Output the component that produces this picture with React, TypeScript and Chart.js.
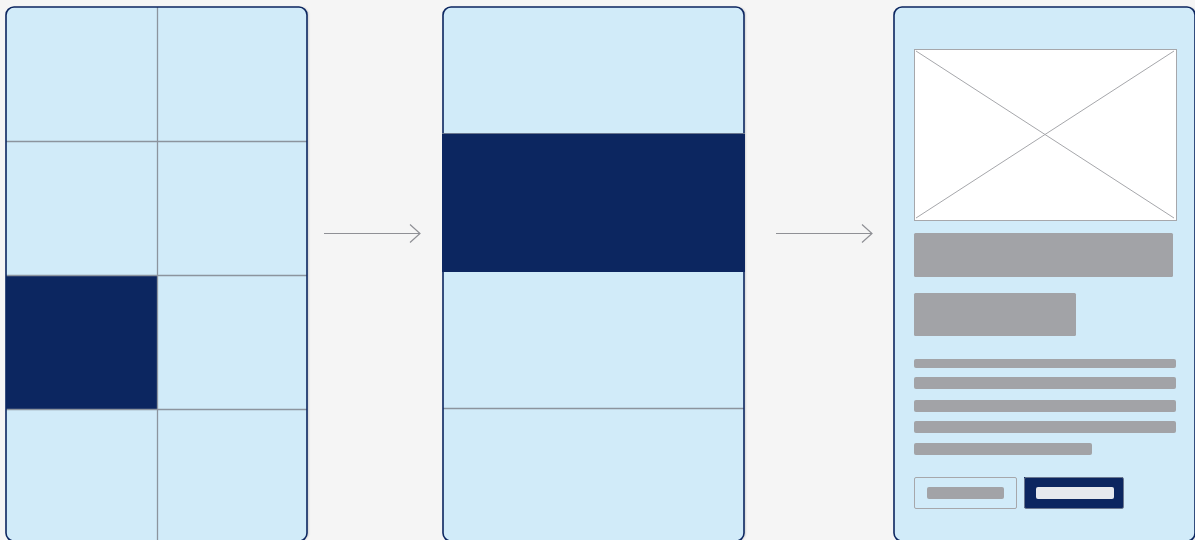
import React, { useEffect, useRef } from "react";
import { Chart, registerables } from "chart.js";

Chart.register(...registerables);

// Diagram coordinates (data space 0..1195 x 0..540)
const panelLefts = [6, 443, 894];
const panelWidth = 301;
const panelTop = 7;
const panelBottom = 541;

// Panel 1: 2x4 grid with one highlighted cell
const gridCols = [6, 157, 307];
const gridRows = [7, 141, 275, 409, 541];
const highlightCell = [0, 2]; // [col, row]

// Panel 2: one highlighted band and a divider
const bandTop = 133;
const bandBottom = 272;
const bandDividers = [408];

// Arrows between panels: [x0, x1, y]
const arrows = [
  [324, 420, 233],
  [776, 872, 233],
];

// Panel 3: wireframe blocks [x, y, w, h]
const imageBox = [914, 49, 262, 171];
const titleBlocks = [
  [914, 233, 259, 44],
  [914, 293, 162, 43],
];
const textLines = [
  [914, 359, 262, 9],
  [914, 377, 262, 12],
  [914, 400, 262, 12],
  [914, 421, 262, 12],
  [914, 443, 178, 12],
];
const buttons = [
  { box: [914, 477, 102, 31], label: [927, 487, 77, 12], primary: false },
  { box: [1024, 477, 99, 31], label: [1036, 487, 78, 12], primary: true },
];

const NAVY = "#0c2660";
const PANEL = "#d1ebf9";
const GRIDLINE = "#8c949e";
const BLOCK = "#a2a3a7";

const diagramPlugin = {
  id: "diagram",
  beforeDraw(chart: any) {
    const { ctx, width, height } = chart;
    ctx.save();
    ctx.fillStyle = "#f5f5f5";
    ctx.fillRect(0, 0, width, height);
    ctx.restore();
  },
  afterDatasetsDraw(chart: any) {
    const ctx = chart.ctx;
    const xs = chart.scales.x;
    const ys = chart.scales.y;
    const px = (v: number) => xs.getPixelForValue(v);
    const py = (v: number) => ys.getPixelForValue(v);
    const rect = (x: number, y: number, w: number, h: number) => {
      const x0 = px(x), y0 = py(y), x1 = px(x + w), y1 = py(y + h);
      return [x0, y0, x1 - x0, y1 - y0];
    };

    ctx.save();
    // panels
    panelLefts.forEach((left, i) => {
      const [x, y, w, h] = rect(left, panelTop, panelWidth, panelBottom - panelTop);
      ctx.save();
      ctx.shadowColor = "rgba(0,0,0,0.12)";
      ctx.shadowOffsetX = 2;
      ctx.shadowBlur = 2;
      ctx.beginPath();
      ctx.roundRect(x, y, w, h, 8);
      ctx.fillStyle = PANEL;
      ctx.fill();
      ctx.restore();

      ctx.save();
      ctx.beginPath();
      ctx.roundRect(x, y, w, h, 8);
      ctx.clip();

      if (i === 0) {
        const [c, r] = highlightCell;
        const [hx, hy, hw, hh] = rect(gridCols[c], gridRows[r], gridCols[c + 1] - gridCols[c], gridRows[r + 1] - gridRows[r]);
        ctx.fillStyle = NAVY;
        ctx.fillRect(hx, hy, hw, hh);
        ctx.strokeStyle = GRIDLINE;
        ctx.lineWidth = 1.3;
        for (let k = 1; k < gridCols.length - 1; k++) {
          ctx.beginPath();
          ctx.moveTo(Math.round(px(gridCols[k])) + 0.5, py(panelTop));
          ctx.lineTo(Math.round(px(gridCols[k])) + 0.5, py(panelBottom));
          ctx.stroke();
        }
        for (let k = 1; k < gridRows.length - 1; k++) {
          ctx.beginPath();
          ctx.moveTo(px(left), Math.round(py(gridRows[k])) + 0.5);
          ctx.lineTo(px(left + panelWidth), Math.round(py(gridRows[k])) + 0.5);
          ctx.stroke();
        }
      }
      if (i === 1) {
        ctx.strokeStyle = GRIDLINE;
        ctx.lineWidth = 1.3;
        bandDividers.forEach((d) => {
          ctx.beginPath();
          ctx.moveTo(px(left), Math.round(py(d)) + 0.5);
          ctx.lineTo(px(left + panelWidth), Math.round(py(d)) + 0.5);
          ctx.stroke();
        });
      }
      ctx.restore();

      ctx.beginPath();
      ctx.roundRect(x, y, w, h, 8);
      ctx.strokeStyle = NAVY;
      ctx.lineWidth = 1.6;
      ctx.stroke();

      if (i === 1) {
        const [bx, by, bw, bh] = rect(left - 1, bandTop, panelWidth + 2, bandBottom - bandTop);
        ctx.fillStyle = NAVY;
        ctx.fillRect(bx, by, bw, bh);
        ctx.strokeStyle = "#6b7890";
        ctx.lineWidth = 1;
        ctx.beginPath();
        ctx.moveTo(bx, Math.round(by) + 0.5);
        ctx.lineTo(bx + bw, Math.round(by) + 0.5);
        ctx.stroke();
      }
    });

    // arrows
    ctx.strokeStyle = "#8f9095";
    ctx.lineWidth = 1.2;
    arrows.forEach(([x0, x1, y]) => {
      const yy = Math.round(py(y)) + 0.5;
      ctx.beginPath();
      ctx.moveTo(px(x0), yy);
      ctx.lineTo(px(x1), yy);
      ctx.stroke();
      ctx.beginPath();
      ctx.moveTo(px(x1 - 10), yy - 9);
      ctx.lineTo(px(x1), yy);
      ctx.lineTo(px(x1 - 10), yy + 9);
      ctx.stroke();
    });

    // image placeholder
    {
      const [x, y, w, h] = rect(imageBox[0], imageBox[1], imageBox[2], imageBox[3]);
      ctx.fillStyle = "#ffffff";
      ctx.fillRect(x, y, w, h);
      ctx.strokeStyle = "#a6a7ab";
      ctx.lineWidth = 1;
      ctx.strokeRect(Math.round(x) + 0.5, Math.round(y) + 0.5, Math.round(w), Math.round(h));
      ctx.beginPath();
      ctx.moveTo(x + 2, y + 2);
      ctx.lineTo(x + w - 2, y + h - 2);
      ctx.moveTo(x + w - 2, y + 2);
      ctx.lineTo(x + 2, y + h - 2);
      ctx.stroke();
    }

    const block = (b: number[], color: string, radius: number) => {
      const [x, y, w, h] = rect(b[0], b[1], b[2], b[3]);
      ctx.beginPath();
      ctx.roundRect(x, y, w, h, radius);
      ctx.fillStyle = color;
      ctx.fill();
    };
    titleBlocks.forEach((b) => block(b, BLOCK, 1.5));
    textLines.forEach((b) => block(b, BLOCK, 2));

    buttons.forEach((btn) => {
      const [x, y, w, h] = rect(btn.box[0], btn.box[1], btn.box[2], btn.box[3]);
      if (btn.primary) {
        ctx.fillStyle = NAVY;
        ctx.fillRect(x, y, w, h);
        ctx.strokeStyle = "#6b7890";
      } else {
        ctx.strokeStyle = "#a6a7ab";
      }
      ctx.lineWidth = 1;
      ctx.beginPath();
      ctx.roundRect(Math.round(x) + 0.5, Math.round(y) + 0.5, Math.round(w), Math.round(h), 1.5);
      ctx.stroke();
      block(btn.label, btn.primary ? "#e6e9ee" : BLOCK, 2);
    });
    ctx.restore();
  },
};

export default function App() {
  const ref = useRef<HTMLCanvasElement | null>(null);
  useEffect(() => {
    if (!ref.current) return;
    const chart = new Chart(ref.current, {
      type: "scatter",
      data: { datasets: [{ data: [], pointRadius: 0 }] },
      options: {
        animation: false,
        responsive: false,
        events: [],
        layout: { padding: 0 },
        plugins: { legend: { display: false }, tooltip: { enabled: false } },
        scales: {
          x: { type: "linear", min: 0, max: 1195, display: false },
          y: { type: "linear", min: 0, max: 540, reverse: true, display: false },
        },
      },
      plugins: [diagramPlugin],
    });
    return () => chart.destroy();
  }, []);
  return (
    <div style={{ position: "fixed", left: 0, top: 0, width: 1195, height: 540, background: "#f5f5f5" }}>
      <canvas ref={ref} width={1195} height={540} style={{ display: "block", width: 1195, height: 540 }} />
    </div>
  );
}
